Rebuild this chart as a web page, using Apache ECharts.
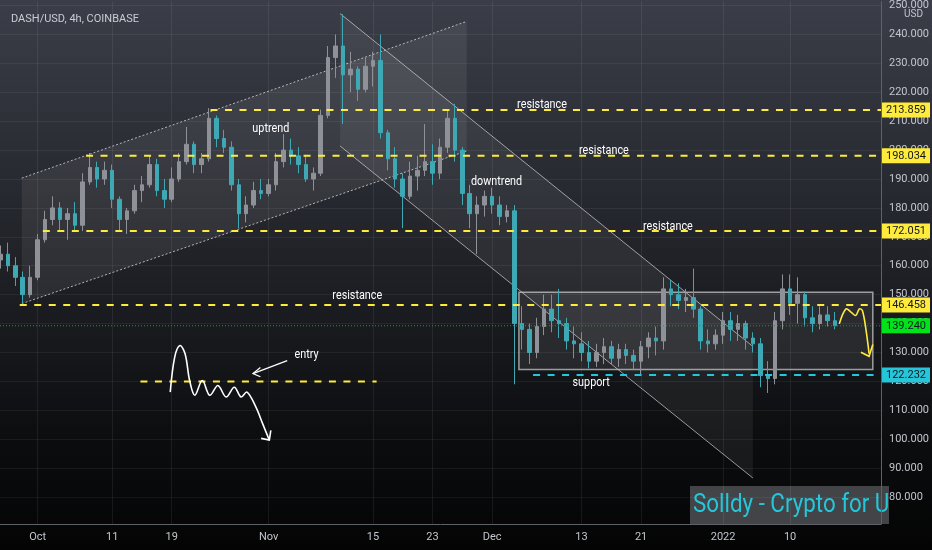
<!DOCTYPE html>
<html><head><meta charset="utf-8">
<script src="https://cdn.jsdelivr.net/npm/echarts@6/dist/echarts.min.js"></script>
<style>html,body{margin:0;padding:0;background:#000}#c{width:932px;height:550px}</style>
</head><body><div id="c"></div>
<script>
const dates = ['2021-09-26','2021-09-27','2021-09-28','2021-09-29','2021-09-30',
'2021-10-01','2021-10-02','2021-10-03','2021-10-04','2021-10-05','2021-10-06','2021-10-07','2021-10-08','2021-10-09','2021-10-10',
'2021-10-11','2021-10-12','2021-10-13','2021-10-14','2021-10-15','2021-10-16','2021-10-17','2021-10-18','2021-10-19','2021-10-20',
'2021-10-21','2021-10-22','2021-10-23','2021-10-24','2021-10-25','2021-10-26','2021-10-27','2021-10-28','2021-10-29','2021-10-30','2021-10-31',
'2021-11-01','2021-11-02','2021-11-03','2021-11-04','2021-11-05','2021-11-06','2021-11-07','2021-11-08','2021-11-09','2021-11-10',
'2021-11-11','2021-11-12','2021-11-13','2021-11-14','2021-11-15','2021-11-16','2021-11-17','2021-11-18','2021-11-19','2021-11-20',
'2021-11-21','2021-11-22','2021-11-23','2021-11-24','2021-11-25','2021-11-26','2021-11-27','2021-11-28','2021-11-29','2021-11-30',
'2021-12-01','2021-12-02','2021-12-03','2021-12-04','2021-12-05','2021-12-06','2021-12-07','2021-12-08','2021-12-09','2021-12-10',
'2021-12-11','2021-12-12','2021-12-13','2021-12-14','2021-12-15','2021-12-16','2021-12-17','2021-12-18','2021-12-19','2021-12-20',
'2021-12-21','2021-12-22','2021-12-23','2021-12-24','2021-12-25','2021-12-26','2021-12-27','2021-12-28','2021-12-29','2021-12-30','2021-12-31',
'2022-01-01','2022-01-02','2022-01-03','2022-01-04','2022-01-05','2022-01-06','2022-01-07','2022-01-08','2022-01-09','2022-01-10',
'2022-01-11','2022-01-12','2022-01-13','2022-01-14','2022-01-15','2022-01-16'];
const opens = [162,164,160,156,150,
156,169,176,180,176,178,174,189,194,190,
193,183,176,179,186,188,195,186,183,190,
196,202,195,197,211,204,201,188,178,181,186,
185,188,196,200,198,195,190,192,212,232,
236,226,228,221,229,231,206,197,190,184,
191,193,196,192,201,211,200,185,178,181,
184,181,177,179,140,138,130,139,145,141,
140,134,133,130,127,130,132,128,131,129,
127,132,135,134,152,150,148,149,145,134,133,
136,141,138,140,135,133,122,121,141,152,
147,150,142,140,143,141];
const highs = [167,168,163,158,160,
171,179,184,182,180,182,192,199,196,196,
195,184,180,188,191,198,197,190,194,199,
208,203,199,214.5,212,207,203,190,184,189,190,
190,199,205.5,204,201,198,194,214,236,240,
247,234,229,232,234,240,207,201,192,196,
198,209,202,204,214,216,201,188,184,186,
187,184,181,181,146,140,142,150,150,152,
142,139,137,134,133,135,134,133,133,131,
134,137,139,156,155,154,152,159,146,138,138,
144,144,143,141,137,135,127,144,157,157,
156,151,146,146,146,144];
const lows = [159,158,153,146.5,149,
155,168,174,172,169,172,172,188,187,188,
180,172,171,178,182,187,184,180,182,189,
195,192,192,196,201,199,186,173,175,180,183,
184,186,194,195,192,189,186,191,211,225,
209,220,217,220,222,204,193,187,173,183,
186,191,188,190,199,196,181,173,164,177,
178,174,175,119,131,126,128,136,137,135,
131,128,127,124.5,125,126,126,125,126,124,
122.5,128,129,131,146,145,144,142,131,130,131,
133,134,134,131,130,118,116,119,138,143,
140,139,137,138,139,138];
const closes = [164,160,156,150,156,
169,176,180,176,178,174,189,194,190,193,
183,176,179,186,188,195,186,183,190,196,
202,195,197,211,204,201,188,178,181,186,185,
188,196,200,198,195,190,192,212,232,236,
226,228,221,229,231,206,197,190,184,191,
193,196,192,201,211,200,185,178,181,184,
181,177,179,140,138,130,139,145,141,140,
134,133,130,127,130,132,128,131,129,127,
132,135,134,152,150,148,149,145,134,133,136,
141,138,140,135,133,122,121,141,152,147,
150,142,140,143,141,139.24];
const lastPrice = 139.24;

const xTickDates = ['2021-10-01','2021-10-11','2021-10-19','2021-11-01','2021-11-15','2021-11-23','2021-12-01','2021-12-13','2021-12-21','2022-01-01','2022-01-10'];
const xTickLabels = ['Oct','11','19','Nov','15','23','Dec','13','21','2022','10'];
const yTickValues = [80,90,100,110,120,130,140,150,160,170,180,190,200,210,220,230,240,250];

// horizontal levels drawn on the chart (price, first day offset from Oct 1)
const resistanceLevels = [213.859, 198.034, 172.051, 146.458];
const resistanceFromDay = [23.2, 6.5, 0.7, -2.4];
const supportLevel = 122.232;
const supportFromDay = 66.5;

// drawings in (day offset from 2021-10-01, price)
const upChannel = [[-2.13,146.9],[-2.13,190.3],[57.6,244.5],[57.6,199.7]];
const downChannel = [[40.6,247.2],[96.0,132.1],[96.0,86.6],[40.6,201.4]];
const rangeBox = [[64.6,150.8],[112.1,124.1]];
const entryLevel = 120.0, entryFrom = 13.8, entryTo = 45.5;
const sketchPath = [[17.8,116.3],[18.4,128.4],[19.1,132.4],[19.8,129.5],[20.4,120.3],[21.1,115.2],[22.1,120.3],[23.1,115.2],[24.2,118.6],[25.3,114.6],[26.4,118.0],[27.3,114.6],[28.1,116.3],[29.3,111.1],[30.2,105.4],[31.1,99.7]];
const sketchHead = [[30.0,100.3],[31.1,99.7],[31.3,103.1]];
const entryArrow = [[33.5,127.2],[28.9,122.7]];
const entryHead = [[29.9,124.8],[28.9,122.7],[29.9,121.6]];
const projPath = [[107.6,139.9],[108.5,145.1],[109.2,143.9],[109.8,142.8],[110.3,145.1],[110.7,144.5],[111.2,137.6],[111.6,129.6]];
const projHead = [[110.5,130.1],[111.6,128.7],[112.1,132.8]];
const notes = [
  ['resistance', 67.7, 215.6], ['resistance', 76.0, 199.7], ['resistance', 84.6, 173.4],
  ['resistance', 42.9, 149.4], ['uptrend', 31.3, 207.2], ['downtrend', 61.6, 189.0],
  ['support', 74.3, 119.3], ['entry', 36.1, 129.3]
];

const DAY = 86400000;
const T0 = Date.UTC(2021, 9, 1);
const dayOf = s => (Date.parse(s) - T0) / DAY;
const X_MIN = -5.05, X_MAX = 113.2;
const Y_MIN = 70.69, Y_MAX = 251.38;
const FONT = "Roboto, 'Liberation Sans', sans-serif";

const tickDays = xTickDates.map(dayOf);
const candles = dates.map((s, i) => [dayOf(s), opens[i], closes[i], lows[i], highs[i]]);

function P(api, d, p) { return api.coord([d, p]); }

function renderBack(params, api) {
  const pts = arr => arr.map(q => P(api, q[0], q[1]));
  const up = pts(upChannel), dn = pts(downChannel), box = pts(rangeBox);
  const dotted = {stroke:'rgba(225,225,225,0.75)', lineWidth:1, lineDash:[2,2], fill:null};
  return {type:'group', children:[
    {type:'polygon', shape:{points:up}, style:{fill:'rgba(255,255,255,0.07)'}},
    {type:'polygon', shape:{points:dn}, style:{fill:'rgba(255,255,255,0.06)'}},
    {type:'line', shape:{x1:up[1][0],y1:up[1][1],x2:up[2][0],y2:up[2][1]}, style:dotted},
    {type:'line', shape:{x1:up[0][0],y1:up[0][1],x2:up[3][0],y2:up[3][1]}, style:dotted},
    {type:'line', shape:{x1:dn[0][0],y1:dn[0][1],x2:dn[1][0],y2:dn[1][1]}, style:{stroke:'rgba(210,210,210,0.7)', lineWidth:1}},
    {type:'line', shape:{x1:dn[3][0],y1:dn[3][1],x2:dn[2][0],y2:dn[2][1]}, style:{stroke:'rgba(210,210,210,0.7)', lineWidth:1}},
    {type:'rect', shape:{x:box[0][0], y:box[0][1], width:box[1][0]-box[0][0], height:box[1][1]-box[0][1]},
      style:{fill:'rgba(255,255,255,0.08)', stroke:'rgba(200,200,200,0.75)', lineWidth:1.5}}
  ]};
}

function renderFront(params, api) {
  const pts = arr => arr.map(q => P(api, q[0], q[1]));
  const right = api.coord([X_MAX, lastPrice])[0];
  const left = api.coord([X_MIN, lastPrice])[0];
  const ch = [];
  const yl = api.coord([X_MIN, lastPrice])[1];
  ch.push({type:'line', shape:{x1:left,y1:yl,x2:right,y2:yl}, style:{stroke:'#1f9a3c', lineWidth:1, lineDash:[1,2]}});
  resistanceLevels.forEach((lv, i) => {
    const a = P(api, resistanceFromDay[i], lv);
    ch.push({type:'line', shape:{x1:a[0],y1:a[1],x2:right,y2:a[1]}, style:{stroke:'#ffeb3b', lineWidth:2, lineDash:[7,7.5]}});
  });
  const s = P(api, supportFromDay, supportLevel);
  ch.push({type:'line', shape:{x1:s[0],y1:s[1],x2:right,y2:s[1]}, style:{stroke:'#26c6da', lineWidth:2, lineDash:[7,7.5]}});
  const e1 = P(api, entryFrom, entryLevel), e2 = P(api, entryTo, entryLevel);
  ch.push({type:'line', shape:{x1:e1[0],y1:e1[1],x2:e2[0],y2:e2[1]}, style:{stroke:'#ffeb3b', lineWidth:2, lineDash:[7,7.5]}});
  ch.push({type:'polyline', shape:{points:pts(sketchPath), smooth:0.35}, style:{stroke:'#ffffff', lineWidth:1.6, fill:null}});
  ch.push({type:'polyline', shape:{points:pts(sketchHead)}, style:{stroke:'#ffffff', lineWidth:1.6, fill:null}});
  ch.push({type:'polyline', shape:{points:pts(entryArrow)}, style:{stroke:'#ffffff', lineWidth:1.2, fill:null}});
  ch.push({type:'polyline', shape:{points:pts(entryHead)}, style:{stroke:'#ffffff', lineWidth:1.2, fill:null}});
  ch.push({type:'polyline', shape:{points:pts(projPath), smooth:0.35}, style:{stroke:'#ffeb3b', lineWidth:1.6, fill:null}});
  ch.push({type:'polyline', shape:{points:pts(projHead)}, style:{stroke:'#ffeb3b', lineWidth:1.6, fill:null}});
  notes.forEach(n => {
    const c = P(api, n[1], n[2]);
    ch.push({type:'text', x:c[0], y:c[1], scaleX:0.9, style:{text:n[0], fill:'#ffffff', fontSize:12, fontFamily:FONT, align:'center', verticalAlign:'middle'}});
  });
  const tag = (price, bg, fg) => {
    const y = api.coord([X_MAX, price])[1];
    ch.push({type:'text', x:right + 1, y:y, style:{text:price.toFixed(3), fill:fg, backgroundColor:bg, padding:[2,4,2,4], fontSize:11, fontFamily:FONT, align:'left', verticalAlign:'middle'}});
  };
  resistanceLevels.forEach(lv => tag(lv, '#ffeb3b', '#131722'));
  tag(lastPrice, '#00e31b', '#131722');
  tag(supportLevel, '#26c6da', '#131722');
  return {type:'group', children:ch};
}

const chart = echarts.init(document.getElementById('c'), null, {renderer:'canvas'});
chart.setOption({
  animation:false,
  backgroundColor:{type:'linear', x:0, y:0, x2:0, y2:1, colorStops:[
    {offset:0, color:'#3b3e48'}, {offset:0.45, color:'#212329'}, {offset:0.8, color:'#0c0d0f'}, {offset:1, color:'#040404'}]},
  textStyle:{fontFamily:FONT},
  title:{text:'DASH/USD, 4h, COINBASE', left:6, top:9, textStyle:{color:'#c9ccd3', fontSize:11, fontWeight:'normal', fontFamily:FONT}},
  grid:{left:0, right:43, top:0, bottom:26, containLabel:false},
  xAxis:{type:'value', min:X_MIN, max:X_MAX,
    axisLine:{show:true, onZero:false, lineStyle:{color:'#5f626b', width:1}},
    axisTick:{show:false, customValues:tickDays},
    axisLabel:{customValues:tickDays, color:'#c2c5cc', fontSize:11, margin:8, fontFamily:FONT,
      formatter:v => { const i = tickDays.findIndex(t => Math.abs(t - v) < 1e-6); return i >= 0 ? xTickLabels[i] : ''; }},
    splitLine:{show:true, lineStyle:{color:'rgba(255,255,255,0.07)', width:1}}},
  yAxis:{type:'value', position:'right', min:Y_MIN, max:Y_MAX,
    axisLine:{show:true, onZero:false, lineStyle:{color:'#5f626b', width:1}},
    axisTick:{show:false, customValues:yTickValues},
    axisLabel:{customValues:yTickValues, color:'#c2c5cc', fontSize:11, margin:8, fontFamily:FONT,
      formatter:v => Number(v).toFixed(3)},
    splitLine:{show:true, lineStyle:{color:'rgba(255,255,255,0.06)', width:1}}},
  graphic:[
    {type:'text', left:904, top:9, style:{text:'USD', fill:'#c2c5cc', fontSize:10, fontFamily:FONT}, z:100},
    {type:'group', left:690, top:486, z:100, children:[
      {type:'rect', shape:{x:0, y:0, width:199, height:38}, style:{fill:'rgba(72,74,78,0.92)'}},
      {type:'text', x:3, y:19, scaleX:0.86, style:{text:'Solldy - Crypto for U', fill:'#26c6da', fontSize:26, fontFamily:FONT, verticalAlign:'middle'}}
    ]}
  ],
  series:[
    {type:'custom', coordinateSystem:'cartesian2d', renderItem:renderBack, data:[[50,150]], z:1, silent:true, clip:false},
    {type:'candlestick', data:candles, encode:{x:0, y:[1,2,3,4]}, barWidth:4, z:2,
      itemStyle:{color:'#8e9198', color0:'#3ea8b5', borderColor:'#8e9198', borderColor0:'#3ea8b5', borderWidth:1}},
    {type:'custom', coordinateSystem:'cartesian2d', renderItem:renderFront, data:[[50,150]], z:5, silent:true, clip:false}
  ]
});
</script></body></html>
